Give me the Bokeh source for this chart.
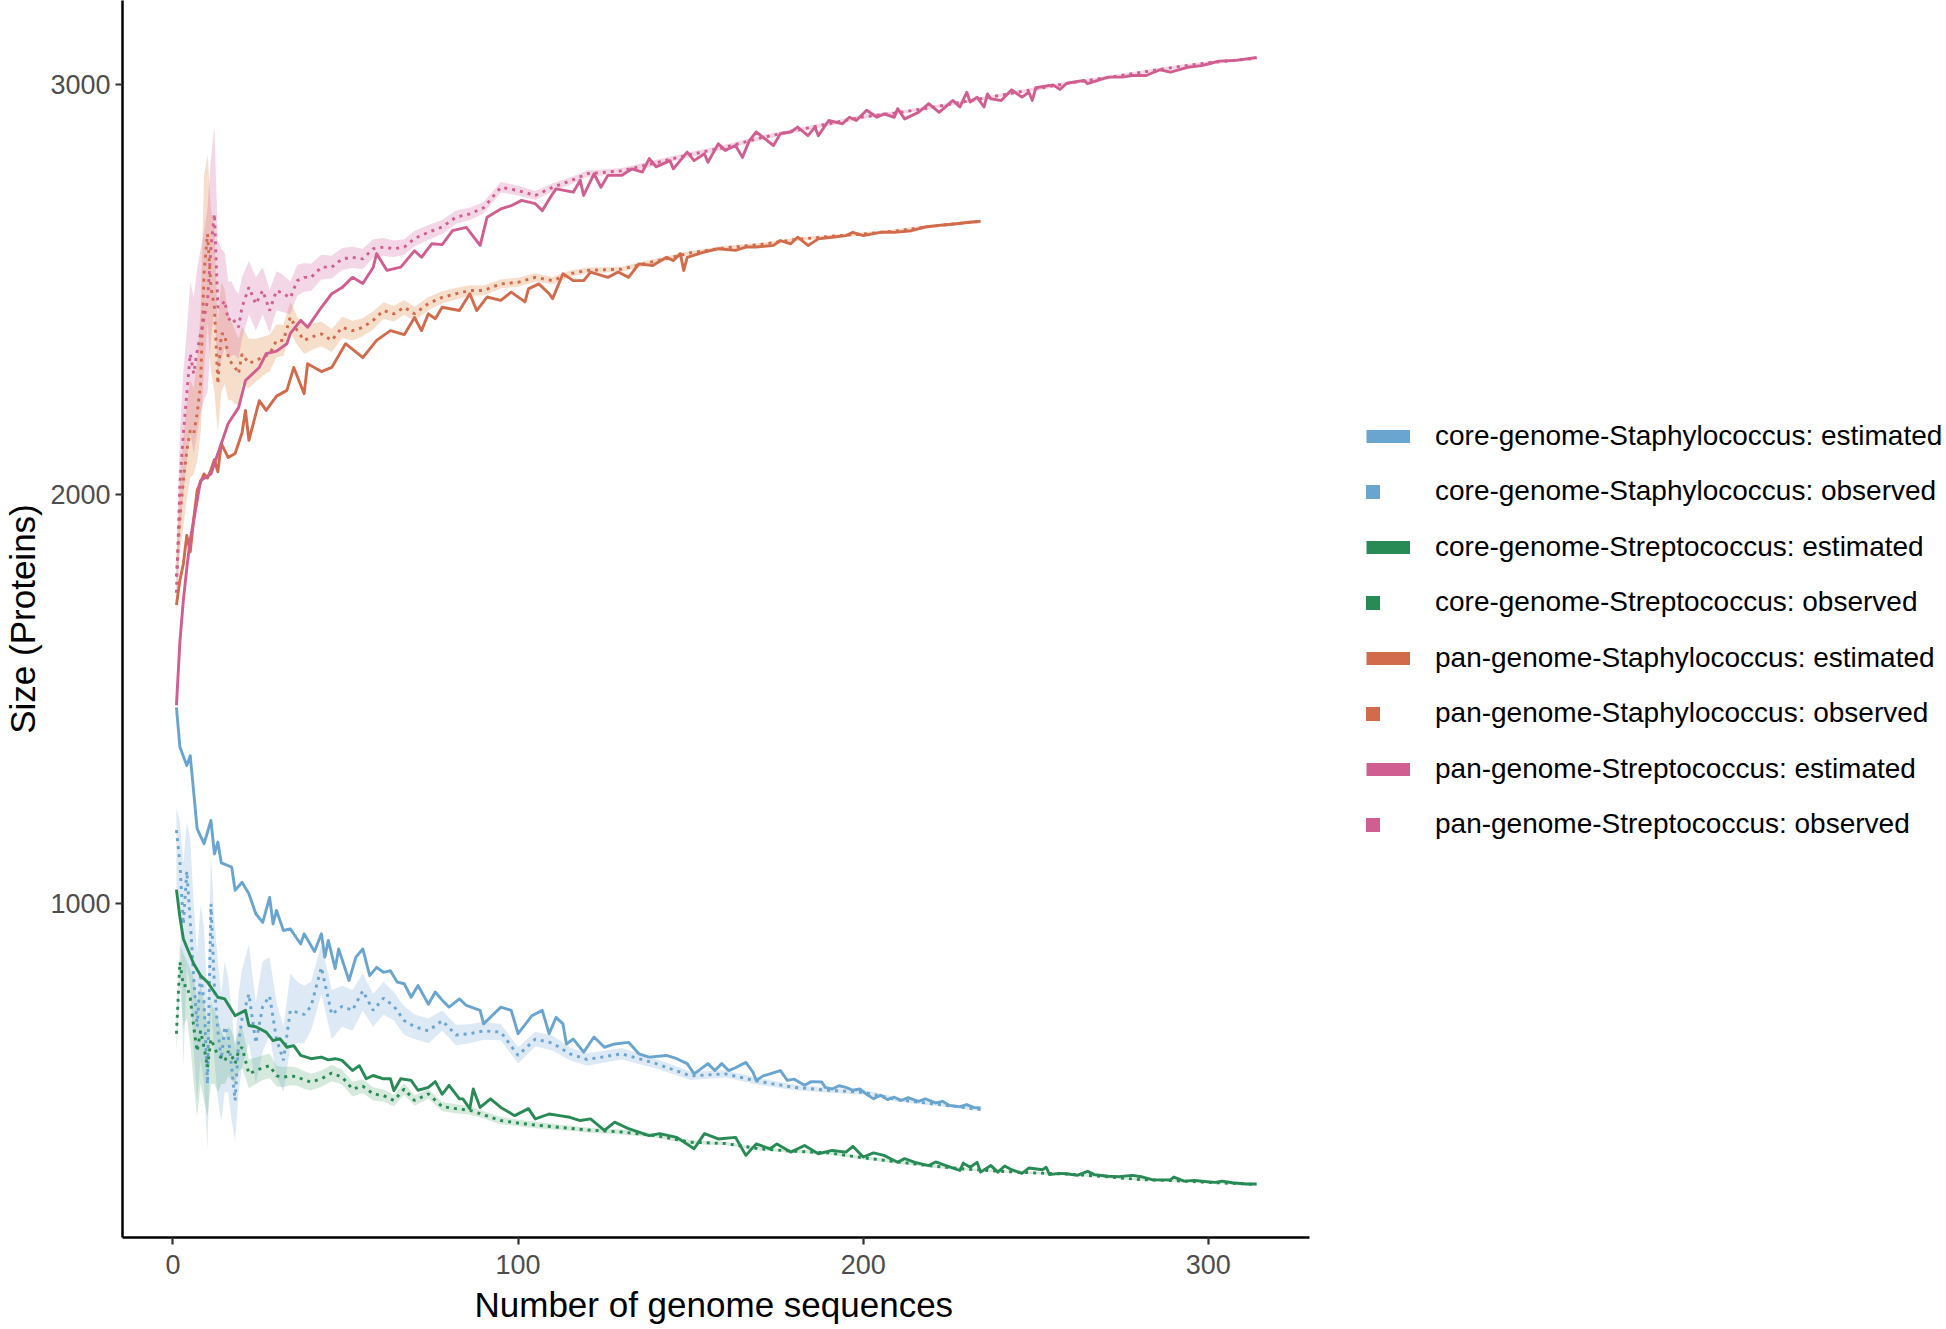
import numpy as np
from bokeh.plotting import figure
from bokeh.models import Range1d, FixedTicker, Legend, LegendItem, Title
from bokeh.embed import file_html
from bokeh.resources import INLINE

# ---------------- data ----------------
x_ticks = [0, 100, 200, 300]
y_ticks = [1000, 2000, 3000]

labels = [
    "core-genome-Staphylococcus: estimated",
    "core-genome-Staphylococcus: observed",
    "core-genome-Streptococcus: estimated",
    "core-genome-Streptococcus: observed",
    "pan-genome-Staphylococcus: estimated",
    "pan-genome-Staphylococcus: observed",
    "pan-genome-Streptococcus: estimated",
    "pan-genome-Streptococcus: observed",
]

# estimated: core-genome Staphylococcus
core_staph_est_x = [1,2,4,5,7,9,11,12,13,14,17,18,20,22,24,26,28,29,30,32,34,37,38,41,43,44,45,47,48,51,
                    53,55,57,59,61,63,65,67,69,71,74,76,78,80,83,85,89,90,95,98,100,104,107,109,111,113,114,116,119,122,
                    125,128,132,135,138,143,146,149,151,155,157,159,161,163,166,168,169,171,173,176,
                    178,180,183,185,188,189,191,193,195,197,199,201,203,205,207,209,211,213,216,218,
                    221,223,225,228,230,232,234]
core_staph_est_y = [1480,1383,1338,1362,1183,1147,1204,1122,1151,1100,1090,1033,1053,1025,976,955,1016,951,984,935,
                    939,902,927,884,927,870,911,842,890,813,870,890,825,845,833,837,809,805,772,801,
                    755,785,765,748,768,752,740,707,748,740,683,727,740,683,723,707,658,670,638,675,
                    650,658,662,634,626,630,622,610,585,610,593,610,593,600,613,590,569,580,585,593,
                    569,572,557,566,565,552,548,556,552,545,548,535,524,533,522,528,520,527,518,524,
                    514,518,508,505,510,503,502]

# estimated: core-genome Streptococcus
core_strep_est_x = [1,2,3,4,6,8,10,13,15,18,21,22,24,27,29,31,33,35,37,40,
                    43,45,47,49,52,54,56,58,61,63,64,66,69,71,74,76,78,80,83,84,
                    86,87,89,92,95,99,103,105,109,112,115,118,121,125,128,132,138,141,146,151,
                    154,158,163,166,169,173,175,179,183,187,191,195,197,200,203,206,210,212,215,219,
                    221,224,228,229,231,233,234,237,239,241,243,246,248,252,253,254,257,259,262,265,
                    267,271,274,278,281,284,289,290,293,296,299,302,304,307,311,314]
core_strep_est_y = [1035,968,915,894,854,825,809,772,768,727,740,703,700,687,666,671,650,654,630,622,
                    626,619,622,618,593,605,573,581,573,573,544,573,569,545,552,566,535,557,524,524,
                    500,548,503,524,503,483,500,475,487,483,479,471,475,447,467,451,434,439,430,402,
                    439,426,430,386,414,402,414,394,410,390,398,394,408,382,392,386,369,378,369,361,
                    370,361,349,367,357,369,345,361,345,360,351,342,355,351,357,339,342,341,337,347,
                    339,335,334,337,333,326,326,333,323,325,322,320,323,319,316,316]

# estimated: pan-genome Staphylococcus
pan_staph_est_x = [1,2,3,4,5,6,7,8,9,10,11,12,13,14,16,18,20,21,22,25,
                   27,30,33,35,38,39,43,46,50,55,59,63,67,70,72,74,76,78,83,86,
                   88,91,95,98,102,103,106,109,110,113,116,119,121,126,129,132,135,139,143,145,
                   147,148,149,154,158,163,166,169,174,176,179,181,184,187,191,195,197,200,205,209,
                   214,218,222,227,230,234]
pan_staph_est_y = [1730,1790,1830,1900,1860,1940,2010,2030,2050,2040,2060,2085,2055,2124,2090,2100,2150,2205,2132,2229,
                   2205,2240,2254,2310,2246,2319,2300,2310,2368,2334,2376,2400,2390,2432,2400,2441,2429,2457,2449,2490,
                   2449,2482,2474,2494,2470,2502,2514,2490,2478,2539,2522,2522,2543,2530,2543,2530,2563,2559,2579,2571,
                   2588,2547,2579,2592,2600,2596,2604,2604,2608,2620,2612,2628,2608,2624,2628,2632,2640,2632,2640,2640,
                   2644,2653,2657,2661,2664,2667]

# estimated: pan-genome Streptococcus
pan_strep_est_x = [1,2,3,4,5,6,8,11,13,16,19,21,25,27,30,33,34,37,39,43,
                   46,49,52,55,58,59,62,66,70,72,75,78,81,85,89,91,95,98,101,105,
                   107,110,111,116,118,119,122,124,126,130,133,136,138,140,144,145,149,151,154,155,
                   158,160,163,165,167,169,171,174,176,179,181,184,186,187,190,194,196,198,201,204,
                   206,209,210,212,216,219,222,226,228,230,231,233,235,236,237,240,243,246,248,249,
                   250,255,257,259,264,265,268,271,275,278,282,286,289,294,298,300,303,308,314]
pan_strep_est_y = [1485,1640,1741,1820,1890,1936,2034,2050,2100,2173,2212,2278,2310,2344,2350,2368,2393,2425,2408,2457,
                   2490,2505,2530,2515,2554,2588,2547,2555,2595,2579,2612,2610,2644,2652,2608,2677,2697,2705,2718,2710,
                   2693,2734,2746,2738,2767,2730,2783,2750,2779,2779,2795,2787,2820,2800,2815,2795,2836,2815,2832,2811,
                   2856,2840,2852,2823,2864,2885,2872,2852,2881,2885,2897,2876,2897,2876,2913,2905,2921,2913,2938,2921,
                   2929,2921,2942,2917,2933,2954,2933,2962,2946,2982,2958,2970,2946,2978,2966,2962,2988,2970,2982,2962,
                   2993,3000,2989,3004,3011,3003,3011,3019,3019,3023,3023,3037,3031,3043,3047,3051,3058,3060,3067]

# observed (genome counts sampled)
obs_x_staph = [1,2,3,4,5,6,7,8,9,10,11,12,13,14,15,16,17,18,19,20,
               22,24,26,28,30,32,34,36,38,40,43,46,49,52,55,58,61,64,67,70,
               74,78,82,86,90,95,100,105,110,115,120,130,140,150,160,170,180,190,200,210,
               220,234]
obs_x_strep = [1,2,3,4,5,6,7,8,9,10,11,12,13,14,15,16,17,18,19,20,
               22,24,26,28,30,32,34,36,38,40,43,46,49,52,55,58,61,64,67,70,
               74,78,82,86,90,95,100,105,110,115,120,130,140,150,160,170,180,190,200,210,
               220,230,240,250,260,270,280,290,300,314]

core_staph_obs = [1180,1100,950,1080,960,820,700,830,760,560,1000,800,690,620,700,680,600,520,660,720,
                  780,660,750,775,670,618,740,735,730,750,845,730,750,740,788,740,770,750,715,700,
                  690,715,680,683,690,687,630,670,660,634,620,634,610,580,585,566,552,545,540,522,
                  512,498]
core_staph_lo = [1040,980,600,850,800,640,520,620,560,400,760,620,520,470,540,540,470,420,540,600,
                 660,560,640,680,580,540,650,660,660,690,780,670,700,690,740,700,730,715,680,670,
                 660,690,655,660,668,667,610,652,642,618,605,620,598,570,576,558,545,539,534,517,
                 508,494]
core_staph_hi = [1236,1200,1100,1200,1160,1000,880,1000,940,760,1120,960,860,780,860,820,740,640,780,840,
                 900,760,860,870,760,700,830,810,800,810,900,790,800,790,830,780,810,785,750,730,
                 720,740,705,706,712,707,650,688,678,650,635,648,622,590,594,574,559,551,546,527,
                 516,502]

core_strep_obs = [683,858,800,801,770,700,640,690,650,601,670,650,630,625,616,640,630,610,640,650,
                  585,593,600,605,580,577,580,578,570,565,573,587,577,548,555,536,532,520,548,520,
                  536,505,500,496,485,471,465,460,456,452,448,443,434,418,415,402,396,392,380,370,
                  360,352,347,343,340,334,327,324,320,315]
core_strep_lo = [640,800,700,720,660,560,480,560,520,480,560,560,540,560,560,580,570,560,590,600,
                 550,560,570,575,555,552,557,556,548,545,553,567,559,530,538,520,517,506,534,507,
                 524,494,489,486,476,462,457,452,449,446,442,437,429,413,411,398,392,388,376,366,
                 356,349,344,340,337,331,324,321,317,312]
core_strep_hi = [720,900,880,860,840,820,760,800,760,700,760,740,720,690,670,700,690,660,690,700,
                 620,625,630,635,605,602,603,600,592,585,593,607,595,566,572,552,547,534,562,533,
                 548,516,511,506,494,480,473,468,463,458,454,449,439,423,419,406,400,396,384,374,
                 364,355,350,346,343,337,330,327,323,318]

pan_staph_obs = [1800,1944,2034,2107,2156,2148,2197,2270,2540,2636,2506,2457,2270,2392,2392,2335,2320,2310,2295,2343,
                 2320,2327,2335,2343,2376,2376,2433,2400,2376,2384,2392,2376,2408,2400,2408,2425,2449,2441,2457,2441,
                 2466,2481,2490,2498,2498,2514,2518,2530,2522,2539,2547,2550,2570,2590,2602,2610,2622,2630,2636,2644,
                 2655,2667]
pan_staph_lo = [1760,1860,1920,1990,2040,2050,2080,2150,2300,2420,2300,2250,2150,2250,2270,2230,2230,2220,2220,2270,
                2260,2275,2290,2300,2335,2338,2395,2365,2343,2352,2362,2348,2382,2376,2386,2403,2429,2422,2439,2424,
                2450,2466,2476,2485,2486,2503,2507,2520,2513,2531,2540,2544,2564,2585,2597,2606,2618,2626,2632,2640,
                2651,2663]
pan_staph_hi = [1850,2030,2140,2220,2280,2260,2330,2450,2780,2830,2700,2650,2420,2520,2500,2440,2420,2400,2380,2410,
                2380,2380,2385,2390,2415,2414,2470,2435,2410,2416,2422,2404,2434,2424,2430,2447,2469,2460,2475,2458,
                2482,2496,2504,2511,2510,2525,2529,2540,2531,2547,2554,2556,2576,2595,2607,2614,2626,2634,2640,2648,
                2659,2671]

pan_strep_obs = [1760,2026,2148,2246,2343,2295,2350,2392,2430,2473,2604,2685,2457,2460,2473,2425,2433,2420,2408,2457,
                 2506,2465,2498,2449,2498,2490,2480,2522,2530,2530,2555,2555,2575,2579,2575,2600,2604,2600,2604,2625,
                 2640,2653,2677,2685,2700,2750,2742,2730,2750,2765,2783,2790,2810,2830,2848,2870,2888,2905,2922,2932,
                 2945,2960,2975,2990,3005,3017,3030,3043,3054,3065]
pan_strep_lo = [1700,1900,2000,2080,2150,2100,2150,2200,2230,2250,2380,2450,2300,2330,2360,2330,2340,2340,2330,2380,
                2440,2400,2440,2395,2450,2445,2440,2485,2495,2497,2525,2527,2548,2553,2550,2577,2582,2580,2585,2606,
                2622,2636,2661,2670,2686,2737,2730,2719,2740,2756,2775,2783,2803,2824,2842,2864,2883,2900,2917,2928,
                2941,2956,2971,2986,3001,3013,3026,3039,3050,3062]
pan_strep_hi = [1830,2150,2300,2400,2520,2480,2550,2600,2640,2700,2820,2900,2620,2600,2590,2520,2520,2500,2490,2530,
                2570,2530,2555,2500,2545,2535,2520,2560,2565,2563,2585,2583,2602,2605,2600,2623,2626,2620,2623,2644,
                2658,2670,2693,2700,2714,2763,2754,2741,2760,2774,2791,2797,2817,2836,2854,2876,2893,2910,2927,2936,
                2949,2964,2979,2994,3009,3021,3034,3047,3058,3068]

# ---------------- styling ----------------
FONT = "Liberation Sans"
BLUE, GREEN, ORANGE, PINK = "#6aa5cf", "#288a54", "#d16b4c", "#d15e91"
RIB_BLUE, RIB_GREEN, RIB_ORANGE, RIB_PINK = "#77a7d3", "#57ab77", "#e07a2a", "#d35f9b"

X_LO, X_HI = -14.63, 329.3   # visible axis extent

# the frame runs to the right edge so that the legend (inside it) is not clipped
p = figure(width=1946, height=1329, output_backend="svg", toolbar_location=None,
           x_range=Range1d(X_LO, 513.9), y_range=Range1d(185.4, 3206.1),
           min_border_left=122, min_border_right=0, min_border_top=0, min_border_bottom=92)
p.outline_line_color = None
p.grid.visible = False
p.background_fill_color = "white"
p.border_fill_color = "white"

for ax in (p.xaxis[0], p.yaxis[0]):
    ax.axis_line_width = 2.5
    ax.axis_line_color = "black"
    ax.major_tick_line_color = "#333333"
    ax.major_tick_line_width = 2.2
    ax.major_tick_out = 7
    ax.major_tick_in = 0
    ax.minor_tick_line_color = None
    ax.major_label_text_font = FONT
    ax.major_label_text_font_size = "27px"
    ax.major_label_text_color = "#4d4d4d"
    ax.axis_label_text_font = FONT
    ax.axis_label_text_font_size = "35px"
    ax.axis_label_text_font_style = "normal"
    ax.axis_label_text_color = "black"
p.xaxis.ticker = FixedTicker(ticks=x_ticks)
p.yaxis.ticker = FixedTicker(ticks=y_ticks)
p.xaxis.bounds = (X_LO, X_HI)
p.yaxis.axis_label = "Size (Proteins)"
p.xaxis.major_label_standoff = 10
p.yaxis.major_label_standoff = 5
p.yaxis.axis_label_standoff = 5

# x-axis title, centred under the visible part of the axis
xtitle = Title(text="Number of genome sequences", align="left", offset=352, standoff=12,
               text_font=FONT, text_font_size="35px", text_font_style="normal", text_color="black")
p.add_layout(xtitle, "below")

# ribbons
p.varea(x=obs_x_staph, y1=core_staph_lo, y2=core_staph_hi, fill_color=RIB_BLUE, fill_alpha=0.25)
p.varea(x=obs_x_strep, y1=core_strep_lo, y2=core_strep_hi, fill_color=RIB_GREEN, fill_alpha=0.25)
p.varea(x=obs_x_staph, y1=pan_staph_lo, y2=pan_staph_hi, fill_color=RIB_ORANGE, fill_alpha=0.25)
p.varea(x=obs_x_strep, y1=pan_strep_lo, y2=pan_strep_hi, fill_color=RIB_PINK, fill_alpha=0.25)

# observed dotted lines
DOT = "3 5"
LW = 2.9
p.line(obs_x_staph, core_staph_obs, line_color=BLUE, line_width=LW, line_dash=DOT)
p.line(obs_x_strep, core_strep_obs, line_color=GREEN, line_width=LW, line_dash=DOT)
p.line(obs_x_staph, pan_staph_obs, line_color=ORANGE, line_width=LW, line_dash=DOT)
p.line(obs_x_strep, pan_strep_obs, line_color=PINK, line_width=LW, line_dash=DOT)

# estimated lines
p.line(core_staph_est_x, core_staph_est_y, line_color=BLUE, line_width=LW, line_join="round")
p.line(core_strep_est_x, core_strep_est_y, line_color=GREEN, line_width=LW, line_join="round")
p.line(pan_staph_est_x, pan_staph_est_y, line_color=ORANGE, line_width=LW, line_join="round")
p.line(pan_strep_est_x, pan_strep_est_y, line_color=PINK, line_width=LW, line_join="round")

# legend key renderers (their single point lies outside the visible ranges)
colors = [BLUE, GREEN, ORANGE, PINK]
est_keys = [p.line(x=[2000, 2001], y=[-9000, -9000], line_color=c, line_width=13) for c in colors]
obs_keys = [p.scatter(x=[2000], y=[-9000], marker="square", fill_color=c, line_alpha=0, size=14)
            for c in colors]

common = dict(padding=0, margin=0, border_line_alpha=0, background_fill_alpha=0,
              label_text_font=FONT, label_text_font_size="28px", label_text_color="black")
leg_est = Legend(items=[LegendItem(label=labels[2 * i], renderers=[est_keys[i]]) for i in range(4)],
                 location=(1244, 452.2), glyph_width=44, glyph_height=32, label_height=32,
                 spacing=79, label_standoff=25, **common)
leg_obs = Legend(items=[LegendItem(label=labels[2 * i + 1], renderers=[obs_keys[i]]) for i in range(4)],
                 location=(1233, 395.4), glyph_width=35, glyph_height=35, label_height=35,
                 spacing=76, label_standoff=45, **common)
p.add_layout(leg_est)
p.add_layout(leg_obs)

open("out.html", "w").write(file_html(p, INLINE))
